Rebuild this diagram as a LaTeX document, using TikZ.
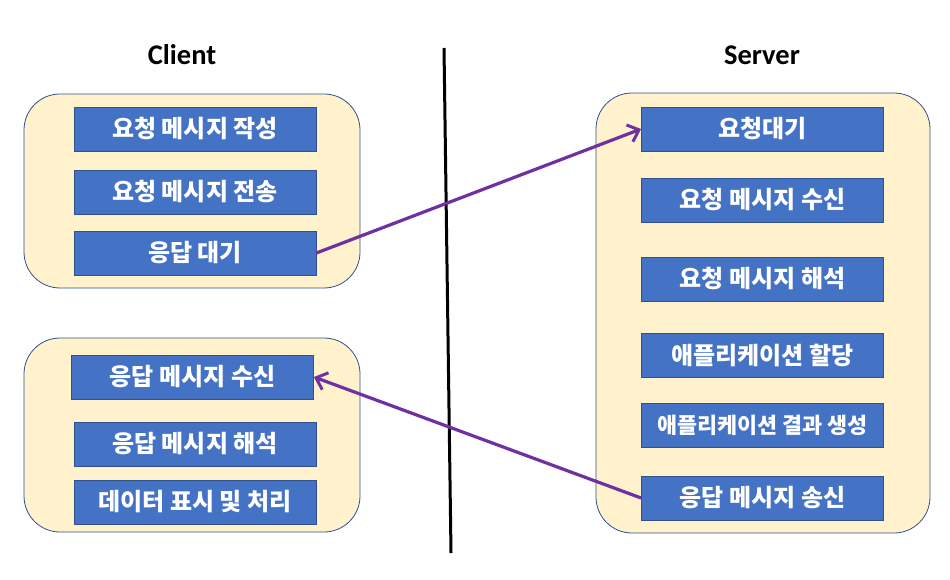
\documentclass[tikz,border=0pt]{standalone}
\usepackage{fontspec}
\setmainfont{Carlito}
\newfontfamily\kor{Noto Sans CJK KR}
\usetikzlibrary{arrows.meta}
\definecolor{boxblue}{HTML}{4472C4}
\definecolor{boxedge}{HTML}{2F528F}
\definecolor{panelfill}{HTML}{FFF2CC}
\definecolor{flowpurple}{HTML}{7030A0}
\begin{document}
\begin{tikzpicture}[x=1pt,y=-1pt,
    panel/.style={draw=boxedge,fill=panelfill,line width=0.8pt,rounded corners=36pt},
    stepbox/.style={draw=boxedge,fill=boxblue,line width=0.8pt,text=white,
        minimum width=242pt,minimum height=44pt,inner sep=0pt,
        font=\kor\bfseries\fontsize{24}{28}\selectfont},
    smallstep/.style={stepbox,font=\kor\bfseries\fontsize{21.8}{26}\selectfont},
    title/.style={font=\bfseries\fontsize{28.5}{33}\selectfont},
    flow/.style={draw=flowpurple,line width=3.2pt,-{Straight Barb[length=10pt,width=18pt,line width=3pt]}}]
    \useasboundingbox (0,0) rectangle (950,580);
    \newcommand{\lx}{195}
    \newcommand{\rx}{762.5}
    % panels
    \draw[panel] (24,94) rectangle (360,288);
    \draw[panel] (24,338) rectangle (360,532);
    \draw[panel] (596,93) rectangle (930,533);
    % divider
    \coordinate (top) at (444,48);
    \coordinate (bottom) at (451,553);
    \draw[line width=3pt] (top) -- (bottom);
    % titles
    \node[title] (client) at (182,55) {Client};
    \node[title] (server) at (762,55) {Server};
    % client side
    \node[stepbox] (reqwrite) at (\lx,129) {요청 메시지 작성};
    \node[stepbox] (reqsend) at (\lx,192) {요청 메시지 전송};
    \node[stepbox] (waitres) at (\lx,253) {응답 대기};
    \node[stepbox] (resrecv) at (192.5,377) {응답 메시지 수신};
    \node[stepbox] (resparse) at (\lx,444) {응답 메시지 해석};
    \node[stepbox] (showdata) at (\lx,502) {데이터 표시 및 처리};
    % server side
    \node[stepbox] (waitreq) at (\rx,129) {요청대기};
    \node[stepbox] (reqrecv) at (\rx,200) {요청 메시지 수신};
    \node[stepbox] (reqparse) at (\rx,279) {요청 메시지 해석};
    \node[stepbox] (appalloc) at (\rx,355) {애플리케이션 할당};
    \node[smallstep] (appresult) at (\rx,425.5) {애플리케이션 결과 생성};
    \node[stepbox] (ressend) at (\rx,498) {응답 메시지 송신};
    % messages
    \draw[flow] (waitres.east) -- (waitreq.west);
    \draw[flow] (ressend.west) -- (resrecv.east);
\end{tikzpicture}
\end{document}
